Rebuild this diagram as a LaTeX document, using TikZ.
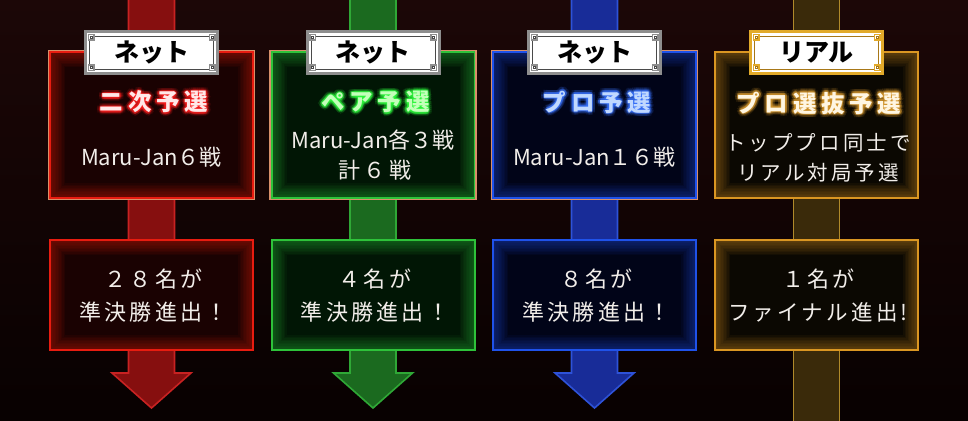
\documentclass[tikz,border=0pt]{standalone}
\usepackage{fontspec}
\setmainfont{Noto Sans CJK JP}
\newfontfamily\jp{Noto Sans CJK JP}
\newfontfamily\jpsp{Noto Sans CJK JP}[LetterSpace=20]
\newfontfamily\jpbody{Noto Sans CJK JP}[LetterSpace=15]
\usetikzlibrary{calc}
\definecolor{bgtop}{HTML}{1C0707}
\definecolor{bgbot}{HTML}{080101}
% red
\definecolor{rline}{HTML}{E81C10}
\definecolor{rfill}{HTML}{1A0202}
\definecolor{rstripe}{HTML}{860F0F}
\definecolor{redge}{HTML}{C82222}
\definecolor{rtitle}{HTML}{FFE8E8}
\definecolor{rglow}{HTML}{FF2020}
% green
\definecolor{gline}{HTML}{2EC23A}
\definecolor{gfill}{HTML}{011605}
\definecolor{gstripe}{HTML}{1B6A1F}
\definecolor{gedge}{HTML}{2FA836}
\definecolor{gtitle}{HTML}{C4FFBA}
\definecolor{gglow}{HTML}{30FF40}
% blue
\definecolor{bline}{HTML}{1F52EA}
\definecolor{bfill}{HTML}{010418}
\definecolor{bstripe}{HTML}{182C98}
\definecolor{bedge}{HTML}{2E52D8}
\definecolor{btitle}{HTML}{C0D8FF}
\definecolor{bglow}{HTML}{3A74FF}
% gold
\definecolor{yline}{HTML}{DA9622}
\definecolor{yfill}{HTML}{0B0802}
\definecolor{ystripe}{HTML}{3A2A0A}
\definecolor{yedge}{HTML}{B08A2A}
\definecolor{ytitle}{HTML}{FFF6E2}
\definecolor{yglow}{HTML}{D89A30}
\definecolor{tanline}{HTML}{D8906A}
\definecolor{bodytext}{HTML}{F2EEEA}
\definecolor{silver}{HTML}{8E8E8E}
\definecolor{darkframe}{HTML}{4A4A4A}
\definecolor{goldframe}{HTML}{E2AA2A}
\definecolor{golddark}{HTML}{A87818}
\tikzset{
  glowbox/.style n args={3}{rectangle, minimum width=203, minimum height=#3,
    inner sep=0, fill=#2, draw=#1, line width=2pt,
    path picture={
      \foreach \w in {30,27,...,3}{
        \draw[#1, line width=\w pt, opacity=0.05]
          (path picture bounding box.south west) rectangle
          (path picture bounding box.north east);}
    }},
  stripe/.style n args={2}{fill=#1, draw=#2, line width=1.6pt, line join=miter},
  badge/.style n args={3}{rectangle, minimum width=132, minimum height=41,
    inner sep=0, fill=white, draw=#1, line width=3pt,
    font=\jp\bfseries\fontsize{25}{28}\selectfont, text=black,
    path picture={
      \draw[#2, line width=0.9pt]
        ($(path picture bounding box.south west)+(4,-4)$) rectangle
        ($(path picture bounding box.north east)+(-4,4)$);
      \foreach \p/\dx/\dy in {south west/1/-1, south east/-1/-1, north west/1/1, north east/-1/1}{
        \fill[#3] ($(path picture bounding box.\p)+(\dx*2,\dy*2)$) rectangle
              ++(\dx*7,\dy*7);
        \fill[white] ($(path picture bounding box.\p)+(\dx*3.5,\dy*3.5)$) rectangle
              ++(\dx*4,\dy*4);
        \draw[#2, line width=0.6pt] ($(path picture bounding box.\p)+(\dx*4.5,\dy*4.5)$) rectangle
              ++(\dx*2,\dy*2);
      }
    }},
  titletext/.style={font=\jpsp\bfseries\fontsize{23.5}{26}\selectfont, inner sep=0},
  bodyline/.style={font=\jpbody\fontsize{22}{26}\selectfont, text=bodytext, inner sep=0},
  goldline/.style={font=\jpbody\fontsize{20.5}{24}\selectfont, text=bodytext, inner sep=0},
  latinline/.style={font=\jp\fontsize{22}{26}\selectfont, text=bodytext, inner sep=0},
}
% glowing title: translucent shifted copies around the main text
\newcommand\glowtitle[5]{%
  \foreach \a in {0,30,...,330}{
    \node[titletext, text=#3, opacity=0.13] (#1o\a) at ($(#2)+(\a:3.6)$) {#5};
    \node[titletext, text=#3, opacity=0.28] (#1i\a) at ($(#2)+(\a:1.6)$) {#5};
  }
  \node[titletext, text=#4] (#1) at (#2) {#5};
}
\begin{document}
\begin{tikzpicture}[x=1pt,y=-1pt]
\useasboundingbox (0,0) rectangle (968,420);
\fill[top color=bgtop, bottom color=bgbot] (0,0) rectangle (968,420);

% stripe coordinates
\coordinate (c1) at (151.5,-4); \coordinate (a1) at (151.5,408);
\coordinate (c2) at (373,-4);   \coordinate (a2) at (373,408);
\coordinate (c3) at (594.5,-4); \coordinate (a3) at (594.5,408);
\coordinate (c4) at (816.5,-4); \coordinate (a4) at (816.5,424);

% stripes with arrows
\draw[stripe={rstripe}{redge}] ($(c1)+(-23,0)$) -- ($(a1)+(-23,-35)$) -- ($(a1)+(-39.5,-35)$) -- (a1)
  -- ($(a1)+(39.5,-35)$) -- ($(a1)+(23,-35)$) -- ($(c1)+(23,0)$);
\draw[stripe={gstripe}{gedge}] ($(c2)+(-23,0)$) -- ($(a2)+(-23,-35)$) -- ($(a2)+(-39.5,-35)$) -- (a2)
  -- ($(a2)+(39.5,-35)$) -- ($(a2)+(23,-35)$) -- ($(c2)+(23,0)$);
\draw[stripe={bstripe}{bedge}] ($(c3)+(-23,0)$) -- ($(a3)+(-23,-35)$) -- ($(a3)+(-39.5,-35)$) -- (a3)
  -- ($(a3)+(39.5,-35)$) -- ($(a3)+(23,-35)$) -- ($(c3)+(23,0)$);
\draw[stripe={ystripe}{yedge}] ($(c4)+(-23,0)$) -- ($(a4)+(-23,0)$) -- ($(a4)+(23,0)$) -- ($(c4)+(23,0)$);

% top boxes
\node[glowbox={rline}{rfill}{146}] (t1) at (151.5,125) {};
\node[glowbox={gline}{gfill}{146}] (t2) at (373,125) {};
\node[glowbox={bline}{bfill}{146}] (t3) at (594.5,125) {};
\node[glowbox={yline}{yfill}{146}] (t4) at (816.5,125) {};
\foreach \t in {t1,t2,t3}{
  \draw[tanline, line width=1.1pt] ($(\t.north west)+(-0.5,-0.5)$) rectangle ($(\t.south east)+(0.5,0.5)$);
}
% bottom boxes
\node[glowbox={rline}{rfill}{110}] (r1) at (151.5,295) {};
\node[glowbox={gline}{gfill}{110}] (r2) at (373,295) {};
\node[glowbox={bline}{bfill}{110}] (r3) at (594.5,295) {};
\node[glowbox={yline}{yfill}{110}] (r4) at (816.5,295) {};

% badges
\node[badge={silver}{darkframe}{silver}] (b1) at (151.5,52.5) {ネット};
\node[badge={silver}{darkframe}{silver}] (b2) at (373,52.5) {ネット};
\node[badge={silver}{darkframe}{silver}] (b3) at (594.5,52.5) {ネット};
\node[badge={goldframe}{golddark}{goldframe}] (b4) at (816.5,52.5) {リアル};

% titles
\glowtitle{h1}{154,102}{rglow}{rtitle}{二次予選}
\glowtitle{h2}{375.5,102}{gglow}{gtitle}{ペア予選}
\glowtitle{h3}{597,102}{bglow}{btitle}{プロ予選}
\glowtitle{h4}{819,103}{yglow}{ytitle}{プロ選抜予選}

% top body texts
\node[latinline] (m1) at (151.5,157) {Maru-Jan６戦};
\node[latinline] (m2a) at (373,140) {Maru-Jan各３戦};
\node[bodyline] (m2b) at (375,170) {計６戦};
\node[latinline] (m3) at (594.5,157) {Maru-Jan１６戦};
\node[goldline] (m4a) at (818,143) {トッププロ同士で};
\node[goldline] (m4b) at (818,173) {リアル対局予選};

% bottom texts
\node[bodyline] (n1a) at (153.5,279) {２８名が};
\node[bodyline] (n1b) at (153.5,312) {準決勝進出！};
\node[bodyline] (n2a) at (375,279) {４名が};
\node[bodyline] (n2b) at (375,312) {準決勝進出！};
\node[bodyline] (n3a) at (596.5,279) {８名が};
\node[bodyline] (n3b) at (596.5,312) {準決勝進出！};
\node[bodyline] (n4a) at (818.5,279) {１名が};
\node[goldline] (n4b) at (818,312) {\fontsize{21.5}{24}\selectfont ファイナル進出!};
\end{tikzpicture}
\end{document}
